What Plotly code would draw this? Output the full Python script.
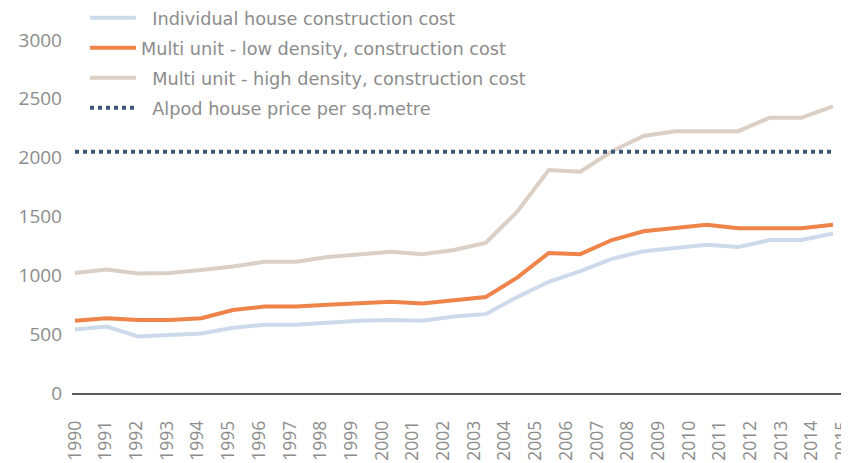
import plotly.graph_objects as go

years = list(range(1990, 2015))
tick_labels = [str(y) for y in range(1990, 2016)]

individual = [540, 565, 480, 495, 505, 555, 580, 580, 600, 615, 620, 615, 650, 670,
              815, 945, 1035, 1140, 1205, 1235, 1260, 1240, 1300, 1300, 1355]
low_density = [615, 635, 620, 620, 635, 705, 735, 735, 750, 765, 775, 760, 785, 815,
               980, 1190, 1180, 1300, 1375, 1400, 1430, 1400, 1400, 1400, 1430]
high_density = [1020, 1050, 1015, 1020, 1045, 1075, 1115, 1115, 1155, 1180, 1200, 1180, 1215, 1275,
                1540, 1895, 1880, 2055, 2185, 2225, 2225, 2225, 2340, 2340, 2435]
alpod_price = [2050] * len(years)

names = ["\u00a0\u00a0Individual house construction cost",
         "Multi unit - low density, construction cost",
         "\u00a0\u00a0Multi unit - high density, construction cost",
         "\u00a0\u00a0Alpod house price per sq.metre"]
colors = ["#ccdaeb", "#ee8449", "#dbcfc6", "#3b5a75"]

fig = go.Figure()
series = [individual, low_density, high_density]
for i, s in enumerate(series):
    fig.add_trace(go.Scatter(x=years, y=s, mode="lines", name=names[i],
                             legendgroup=str(i),
                             line=dict(color=colors[i], width=4)))
fig.add_trace(go.Scatter(x=years, y=alpod_price, mode="lines", name=names[3],
                         legendgroup="3",
                         line=dict(color=colors[3], width=4, dash="dot")))

# category labels spread slightly wider than the data points (as in the original)
n_lab = len(tick_labels)
step = (years[-1] - years[0] + 0.3) / (n_lab - 1)
tickvals = [years[0] + i * step for i in range(n_lab)]

fig.update_layout(
    width=849, height=463,
    margin=dict(l=64, r=8, t=32, b=78, autoexpand=False),
    plot_bgcolor="white", paper_bgcolor="white",
    showlegend=True,
    legend=dict(x=0.0167, y=1.114, xanchor="left", yanchor="top",
                bgcolor="rgba(0,0,0,0)", traceorder="grouped", tracegroupgap=4,
                itemwidth=46,
                font=dict(family="DejaVu Sans", size=17.7, color="#8c8c8c")),
    xaxis=dict(range=[1989.905, 2014.506], tickmode="array", tickvals=tickvals,
               ticktext=tick_labels, tickangle=-90, showgrid=False, zeroline=False,
               showline=True, linecolor="#595959", linewidth=1.5, ticks="",
               ticklabelstandoff=19,
               tickfont=dict(family="Open Sans", size=17.5, color="#8c8c8c")),
    yaxis=dict(range=[0, 3000], tickvals=[0, 500, 1000, 1500, 2000, 2500, 3000],
               showgrid=False, zeroline=False, showline=False, ticks="",
               ticklabelstandoff=9,
               tickfont=dict(family="Open Sans", size=19, color="#8c8c8c")),
)

fig.write_html("out.html")
